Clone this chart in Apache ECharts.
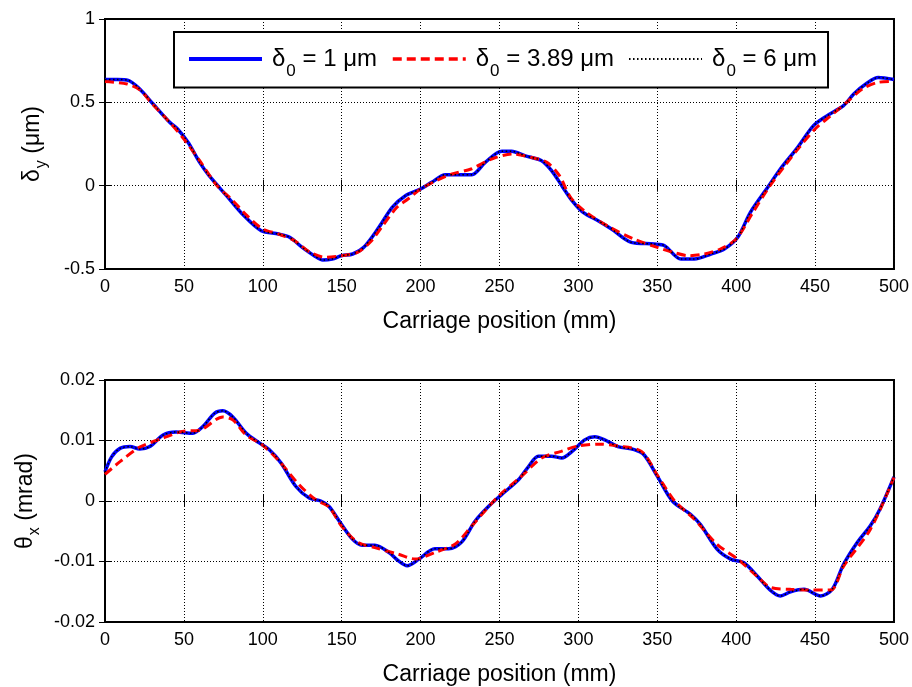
<!DOCTYPE html>
<html>
<head>
<meta charset="utf-8">
<script src="https://cdn.jsdelivr.net/npm/echarts@6/dist/echarts.min.js"></script>
<style>
html,body{margin:0;padding:0;background:#fff;}
#chart{width:912px;height:687px;}
</style>
</head>
<body>
<div id="chart"></div>
<script>
// ---------- data ----------
const xTicksMin = 0, xTicksMax = 500, xTickStep = 50;
const legendValues = ['1', '3.89', '6'];
const xAxisTitle = 'Carriage position (mm)';

// top plot: delta_y (um)
const topBlueX = [0,8,14.7,22,30.5,41,46,52.6,60,66,77,87,99,110,117,125,132.6,138,144,150,157,164,173.6,182,190.4,200,207,215.7,224,232.5,241,251.5,257.7,266,276.7,283,289.5,296,303,312.5,321,333.5,348,354.6,365,373.5,384,392.5,401,409,420,428,439,449,457.7,468,474.5,483,490,500];
const topBlueY = [0.637,0.637,0.632,0.58,0.49,0.38,0.34,0.26,0.14,0.06,-0.06,-0.17,-0.27,-0.29,-0.31,-0.37,-0.42,-0.446,-0.44,-0.42,-0.41,-0.37,-0.25,-0.13,-0.06,-0.02,0.02,0.066,0.066,0.066,0.14,0.207,0.207,0.18,0.15,0.09,0.0,-0.09,-0.16,-0.21,-0.26,-0.34,-0.35,-0.36,-0.44,-0.44,-0.41,-0.38,-0.31,-0.16,-0.01,0.10,0.23,0.36,0.42,0.48,0.55,0.616,0.649,0.637];
const topRedX = [0,14,22,30,40,50,60,71,80,90,100,110,120,130,140,150,160,168,176,185,192,200,210,220,232,245,258,270,280,288,295,305,320,335,350,360,370,380,390,400,410,420,430,440,450,460,470,480,490,500];
const topRedY = [0.625,0.61,0.575,0.49,0.39,0.28,0.15,0.0,-0.08,-0.18,-0.26,-0.29,-0.33,-0.40,-0.43,-0.42,-0.40,-0.34,-0.24,-0.13,-0.08,-0.02,0.03,0.07,0.10,0.16,0.19,0.17,0.14,0.06,-0.07,-0.16,-0.25,-0.32,-0.37,-0.40,-0.42,-0.41,-0.38,-0.32,-0.17,-0.02,0.11,0.23,0.34,0.42,0.50,0.58,0.62,0.625];
const topBlackX = topBlueX;
const topBlackY = topBlueY;

// bottom plot: theta_x (mrad)
const botBlueX = [0,4.2,9.5,15.8,22,28.4,36.8,45,55.7,62,69.4,74.7,81,89.5,97.8,104,111.5,121,129.4,136.8,142,148.4,156.8,163,171,180,186,191.5,199,209,217.8,226,234.6,243,251.5,262,268.4,274.6,283,289.5,296,304,310.4,316.7,325,335.4,341.7,350,359.6,371,377.4,388,396.5,404.9,413.3,421.8,428,434.5,443,453.5,460.9,468,476.6,485,491,500];
const botBlueY = [0.0048,0.0073,0.0087,0.009,0.0086,0.009,0.0109,0.0114,0.0112,0.0123,0.0145,0.0149,0.0139,0.0112,0.0096,0.0085,0.0063,0.0024,0.0005,0.0,-0.0009,-0.0033,-0.0063,-0.0073,-0.0073,-0.0085,-0.0099,-0.0107,-0.0096,-0.0079,-0.0079,-0.0068,-0.0033,-0.0009,0.0011,0.0035,0.0057,0.0074,0.0074,0.0071,0.0082,0.0101,0.0106,0.0101,0.009,0.0085,0.0076,0.0041,0.0,-0.0022,-0.0039,-0.008,-0.0096,-0.0102,-0.0124,-0.0148,-0.0157,-0.015,-0.0146,-0.0157,-0.0146,-0.0105,-0.0069,-0.0041,-0.0014,0.004];
const botRedX = [0,9.5,22,36.8,49,60,74.7,81,89.5,100,110,123,133.6,142,150,160,171,186,196.7,209,222,232.5,249,264,276.7,289,300,312.5,325,340,350,361,373.5,388,401,413,422,434.5,447,460,468,485,500];
const botRedY = [0.0044,0.0065,0.0089,0.0104,0.0115,0.0117,0.0139,0.0134,0.0109,0.0092,0.0067,0.0027,0.0002,-0.001,-0.0042,-0.0068,-0.0077,-0.0088,-0.0096,-0.0085,-0.0071,-0.0041,0.0007,0.0041,0.0071,0.0082,0.0091,0.0094,0.0091,0.0082,0.0043,0.0,-0.003,-0.0072,-0.0096,-0.0124,-0.0143,-0.0146,-0.0147,-0.0147,-0.0108,-0.0047,0.0039];
const botBlackX = botBlueX;
const botBlackY = botBlueY;

// ---------- build ----------
const FONT = "'Liberation Sans', Arial, sans-serif";
const names = legendValues.map(v => 'δ0 = ' + v + ' μm');
function pairs(xs, ys){ return xs.map((x,i)=>[x, ys[i]]); }

const gridLine = {show:true, lineStyle:{color:'#000', width:1, type:[1,2]}};
const tick = {show:true, inside:true, length:6, lineStyle:{color:'#000', width:1}};

function xAxes(gi){
  return [
    {type:'value', gridIndex:gi, min:xTicksMin, max:xTicksMax, interval:xTickStep, position:'bottom',
     axisLine:{show:false}, axisTick:tick, splitLine:gridLine,
     axisLabel:{color:'#000', fontSize:18, fontFamily:FONT, margin:9},
     name:xAxisTitle, nameLocation:'middle', nameGap:41,
     nameTextStyle:{color:'#000', fontSize:23, fontFamily:FONT}},
    {type:'value', gridIndex:gi, min:xTicksMin, max:xTicksMax, interval:xTickStep, position:'top',
     axisLine:{show:false}, axisTick:tick, splitLine:{show:false}, axisLabel:{show:false}}
  ];
}
function yAxes(gi, min, max, step, nameRich, gap){
  return [
    {type:'value', gridIndex:gi, min:min, max:max, interval:step, position:'left',
     axisLine:{show:false}, axisTick:tick, splitLine:gridLine,
     axisLabel:{color:'#000', fontSize:18, fontFamily:FONT, margin:10},
     name:nameRich, nameLocation:'middle', nameGap:gap,
     nameTextStyle:{color:'#000', fontSize:23, fontFamily:FONT,
       rich:{m:{fontSize:23, fontFamily:FONT, color:'#000'},
             s:{fontSize:16, fontFamily:FONT, color:'#000', padding:[18,0,0,1]}}}},
    {type:'value', gridIndex:gi, min:min, max:max, interval:step, position:'right',
     axisLine:{show:false}, axisTick:tick, splitLine:{show:false}, axisLabel:{show:false}}
  ];
}

const lineStyles = [
  {color:'#0000ff', width:3.5, type:'solid'},
  {color:'#ff0000', width:3, type:[9,5]},
  {color:'#000000', width:1.5, type:[1.5,2.5]}
];
const legendLineWidths = [4, 3.5, 1.8];
function mkSeries(name, gi, data, ls){
  return {type:'line', name:name, xAxisIndex:gi*2, yAxisIndex:gi*2, data:data,
    symbol:'none', showSymbol:false, smooth:0.3, lineStyle:ls, itemStyle:{color:ls.color},
    animation:false, emphasis:{disabled:true}};
}

const option = {
  animation:false,
  backgroundColor:'#fff',
  grid:[
    {left:105, right:15, top:19, height:250, show:true, borderColor:'#000', borderWidth:2, backgroundColor:'transparent'},
    {left:105, right:15, top:380, height:243, show:true, borderColor:'#000', borderWidth:2, backgroundColor:'transparent'}
  ],
  xAxis:[...xAxes(0), ...xAxes(1)],
  yAxis:[...yAxes(0,-0.5,1,0.5,'{m|δ}{s|y}{m| (μm)}',55), ...yAxes(1,-0.02,0.02,0.01,'{m|θ}{s|x}{m| (mrad)}',56)],
  legend:{
    data:names.map((n,i)=>({name:n, lineStyle:{width:legendLineWidths[i], color:lineStyles[i].color, type:lineStyles[i].type}})),
    left:174, top:32, orient:'horizontal',
    itemWidth:73, itemHeight:14, itemGap:14,
    padding:[15,11,8,13],
    borderColor:'#000', borderWidth:2, backgroundColor:'#fff',
    selectedMode:false,
    itemStyle:{opacity:0, borderWidth:0},
    formatter:function(name){
      const v = legendValues[names.indexOf(name)];
      return '{d|δ}{s|0}{t| = ' + v + ' μm}';
    },
    textStyle:{color:'#000', fontSize:24, fontFamily:FONT,
      rich:{d:{fontSize:24, fontFamily:FONT, color:'#000', padding:[0,0,0,5]},
            s:{fontSize:17, fontFamily:FONT, color:'#000', padding:[24,0,0,1]},
            t:{fontSize:24, fontFamily:FONT, color:'#000'}}}
  },
  series:[
    mkSeries(names[0],0,pairs(topBlueX,topBlueY),lineStyles[0]),
    mkSeries(names[1],0,pairs(topRedX,topRedY),lineStyles[1]),
    mkSeries(names[2],0,pairs(topBlackX,topBlackY),lineStyles[2]),
    mkSeries(names[0],1,pairs(botBlueX,botBlueY),lineStyles[0]),
    mkSeries(names[1],1,pairs(botRedX,botRedY),lineStyles[1]),
    mkSeries(names[2],1,pairs(botBlackX,botBlackY),lineStyles[2])
  ]
};
const chart = echarts.init(document.getElementById('chart'), null, {renderer:'canvas'});
chart.setOption(option);
</script>
</body>
</html>
